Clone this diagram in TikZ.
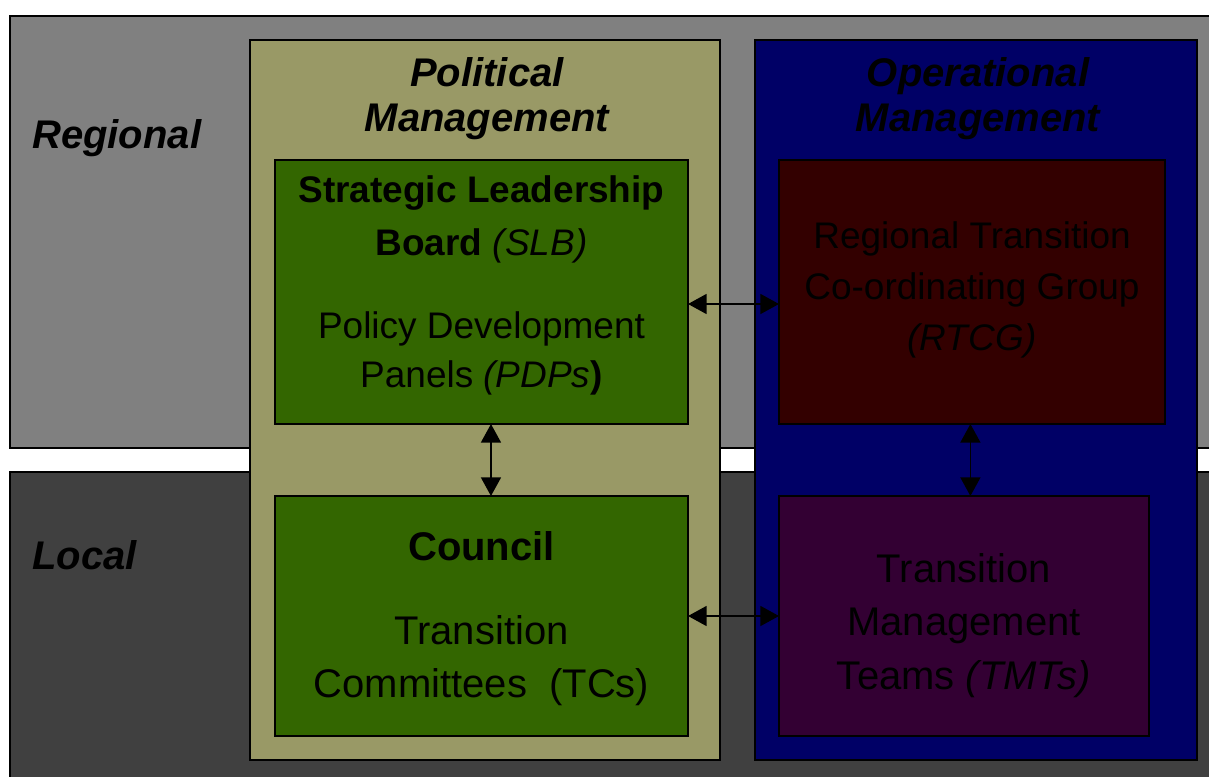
\documentclass[tikz,border=0pt]{standalone}
\usepackage{fontspec}
\setmainfont{Liberation Sans}
\usetikzlibrary{arrows.meta}

\definecolor{regionalgrey}{HTML}{808080}
\definecolor{localgrey}{HTML}{404040}
\definecolor{politicalolive}{HTML}{999966}
\definecolor{operationalnavy}{HTML}{000066}
\definecolor{councilgreen}{HTML}{336600}
\definecolor{rtcgred}{HTML}{330000}
\definecolor{tmtpurple}{HTML}{330033}

\begin{document}
\begin{tikzpicture}[x=0.75pt,y=-0.75pt,
  panel/.style={draw=black, line width=1.5pt, rectangle, inner sep=0pt, outer sep=0pt},
  big/.style={font=\fontsize{30}{36}\selectfont},
  mid/.style={font=\fontsize{27.75}{33}\selectfont},
  txt/.style={anchor=base, inner sep=0pt},
  link/.style={line width=1.3pt,
    {Triangle[length=14pt,width=15pt]}-{Triangle[length=14pt,width=15pt]}}
]
\clip (0,0) rectangle (1209,777);
\fill[white] (0,0) rectangle (1209,777);

% horizontal bands: regional and local levels
\node[panel, fill=regionalgrey, minimum width=1220*0.75pt, minimum height=432*0.75pt]
  (regional) at (620,232) {};
\node[panel, fill=localgrey, minimum width=1220*0.75pt, minimum height=328*0.75pt]
  (local) at (620,636) {};

% vertical columns: political and operational management
\node[panel, fill=politicalolive, minimum width=470*0.75pt, minimum height=720*0.75pt]
  (political) at (485,400) {};
\node[panel, fill=operationalnavy, minimum width=442*0.75pt, minimum height=720*0.75pt]
  (operational) at (976,400) {};

% bodies
\node[panel, fill=councilgreen, minimum width=413*0.75pt, minimum height=264*0.75pt]
  (slb) at (481.5,292) {};
\node[panel, fill=councilgreen, minimum width=413*0.75pt, minimum height=240*0.75pt]
  (council) at (481.5,616) {};
\node[panel, fill=rtcgred, minimum width=386*0.75pt, minimum height=264*0.75pt]
  (rtcg) at (972,292) {};
\node[panel, fill=tmtpurple, minimum width=370*0.75pt, minimum height=240*0.75pt]
  (tmt) at (964,616) {};

% band labels
\node[txt, big, anchor=base west] (regionallbl) at (32,149) {\bfseries\itshape Regional};
\node[txt, big, anchor=base west] (locallbl) at (32,569) {\bfseries\itshape Local};

% column headings
\node[txt, big] (polA) at (487,87) {\bfseries\itshape Political};
\node[txt, big] (polB) at (487,132) {\bfseries\itshape Management};
\node[txt, big] (opA) at (978,87) {\bfseries\itshape Operational};
\node[txt, big] (opB) at (978,132) {\bfseries\itshape Management};

% strategic leadership board
\node[txt, mid] (slbA) at (481.5,203) {\bfseries Strategic Leadership};
\node[txt, mid] (slbB) at (481.5,255) {\textbf{Board} \textit{(SLB)}};
\node[txt, mid] (slbC) at (481.5,338) {Policy Development};
\node[txt, mid] (slbD) at (481.5,387) {Panels \textit{(PDPs}\textbf{)}};

% regional transition co-ordinating group
\node[txt, mid] (rtcgA) at (972,248) {Regional Transition};
\node[txt, mid] (rtcgB) at (972,299) {Co-ordinating Group};
\node[txt, mid] (rtcgC) at (972,350) {\itshape (RTCG)};

% council
\node[txt, big] (councilA) at (481.5,560) {\bfseries Council};
\node[txt, big] (councilB) at (481.5,644) {Transition};
\node[txt, big] (councilC) at (481.5,697) {Committees\ \ (TCs)};

% transition management teams
\node[txt, big] (tmtA) at (964,582) {Transition};
\node[txt, big] (tmtB) at (964,635) {Management};
\node[txt, big] (tmtC) at (964,689) {Teams \textit{(TMTs)}};

% links between bodies
\draw[link] ([yshift=-9pt]slb.east) -- ([yshift=-9pt]rtcg.west);
\draw[link] (council.east) -- (tmt.west);
\draw[link] ([xshift=7.1pt]slb.south) -- ([xshift=7.1pt]council.north);
\draw[link] ([xshift=-1.2pt]rtcg.south) -- ([xshift=-1.2pt]rtcg.south |- tmt.north);
\end{tikzpicture}
\end{document}
